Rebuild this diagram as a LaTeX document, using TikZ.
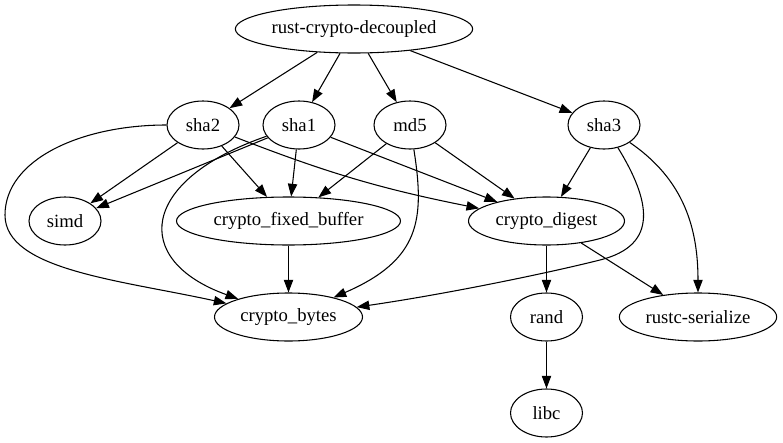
\documentclass[tikz,border=0pt]{standalone}
\usepackage{fontspec}
\setmainfont{Liberation Serif}
\usetikzlibrary{shapes.geometric, arrows.meta}

\begin{document}
\begin{tikzpicture}[x=0.75pt, y=-0.75pt,
	pkg/.style={draw, ellipse, line width=0.8pt, minimum height=36pt, minimum width=54pt, inner sep=0pt, font=\fontsize{14}{16}\selectfont},
	dep/.style={line width=0.8pt, -{Triangle[length=9.5pt, width=7pt]}}]
			\useasboundingbox (0,0) rectangle (783,443);

			\node[pkg, minimum width=178pt] (rcd) at (354,29) {rust-crypto-decoupled};
			\node[pkg] (sha2) at (203,125) {sha2};
			\node[pkg] (sha1) at (299,125) {sha1};
			\node[pkg] (md5) at (410,125) {md5};
			\node[pkg] (sha3) at (604,125) {sha3};
			\node[pkg] (simd) at (65,221) {simd};
			\node[pkg, minimum width=168pt] (cfb) at (288.5,221) {crypto\_fixed\_buffer};
			\node[pkg, minimum width=117pt] (cd) at (546.5,221) {crypto\_digest};
			\node[pkg, minimum width=111pt] (cb) at (288.5,317) {crypto\_bytes};
			\node[pkg] (rand) at (546.5,317) {rand};
			\node[pkg, minimum width=118pt] (rs) at (698,317) {rustc-serialize};
			\node[pkg] (libc) at (546.5,413) {libc};

			\foreach \src/\dst in {rcd/sha2, rcd/sha1, rcd/md5, rcd/sha3,
				sha2/simd, sha2/cfb, sha1/simd, sha1/cfb, sha1/cd,
				md5/cfb, md5/cd, sha3/cd, cfb/cb, cd/rand, cd/rs, rand/libc}{
				\draw[dep] (\src) -- (\dst);
			}

			\draw[dep] (sha2) to[bend right=5] (cd);
			\draw[dep] (sha2) .. controls (80,125) and (5,160) .. (5,215) .. controls (5,270) and (120,280) .. (cb);
			\draw[dep] (sha1) .. controls (140,180) and (130,260) .. (cb);
			\draw[dep] (md5) .. controls (425,220) and (420,260) .. (cb);
			\draw[dep] (sha3) .. controls (650,200) and (660,245) .. (600,260) .. controls (540,275) and (440,295) .. (cb);
			\draw[dep] (sha3) .. controls (685,180) and (698,230) .. (rs);
		\end{tikzpicture}
\end{document}
